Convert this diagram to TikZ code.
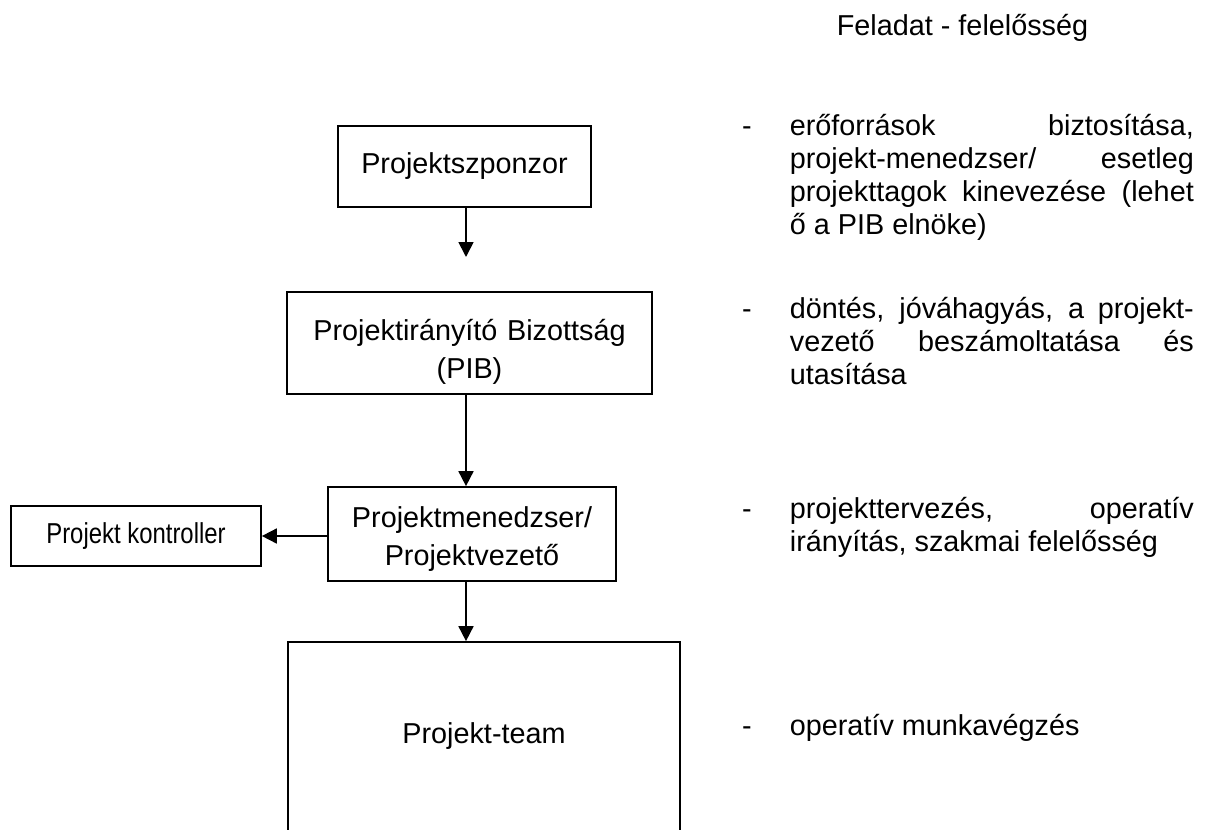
\documentclass[tikz,border=0pt]{standalone}
\usepackage{fontspec}
\setmainfont{Liberation Sans}
\newfontfamily\narrowfont[FakeStretch=0.83]{Liberation Sans}
\usetikzlibrary{arrows.meta}
\hyphenpenalty=10000
\exhyphenpenalty=10000
\tolerance=10000
\hbadness=10000
\begin{document}
\begin{tikzpicture}[x=1pt,y=-1pt,line width=1.7pt,
  font=\fontsize{28.8}{33.3}\selectfont,
  box/.style={draw, rectangle, inner sep=0pt, align=center,
    font=\fontsize{28.8}{37.8}\selectfont},
  arr/.style={-{Triangle[width=15pt,length=15pt]}},
  note/.style={anchor=base west, inner sep=0pt, text width=404pt, align=justify},
  bulletdash/.style={anchor=base, inner sep=0pt},
  heading/.style={anchor=base west, inner sep=0pt}]
\useasboundingbox (0,0) rectangle (1205,830);
\clip (0,0) rectangle (1205,830);

% boxes
\node[box, minimum width=253pt, minimum height=81pt] (sponsor) at (464.5,166.5) {Projektszponzor};
\node[box, minimum width=365pt, minimum height=102pt, text width=355pt,
  text height=20pt, text depth=25pt] (pib) at (469.5,343) {Projektirányító Bizottság\\(PIB)};
\node[box, minimum width=288pt, minimum height=94pt, text width=280pt,
  text height=20pt, text depth=33pt] (pm) at (472,534) {Projektmenedzser/\\Projektvezető};
\node[box, minimum width=250pt, minimum height=60pt, font=\narrowfont\fontsize{28.8}{33}\selectfont] (ctrl) at (136,536) {Projekt kontroller};
\node[box, minimum width=392pt, minimum height=204pt, text depth=22pt] (team) at (484,744) {Projekt-team};

% connectors
\coordinate (tip1) at (466,257);
\draw[arr] (sponsor.south -| tip1) -- (tip1);
\draw[arr] (pib.south -| tip1) -- (pm.north -| tip1);
\draw[arr] (pm.south -| tip1) -- (team.north -| tip1);
\draw[arr] (pm.west |- ctrl.east) -- (ctrl.east);

% right column
\node[heading] (title) at (836,35) {Feladat - felelősség};

\node[bulletdash] (d1) at (747,135) {-};
\node[note] (n1) at (789,135) {erőforrások biztosítása,\linebreak projekt-menedzser/ esetleg\linebreak projekttagok kinevezése (lehet\linebreak ő a PIB elnöke)};

\node[bulletdash] (d2) at (747,318) {-};
\node[note] (n2) at (789,318) {döntés, jóváhagyás, a projekt-\linebreak vezető beszámoltatása és\linebreak utasítása};

\node[bulletdash] (d3) at (747,518) {-};
\node[note] (n3) at (789,518) {projekttervezés, operatív\linebreak irányítás, szakmai felelősség};

\node[bulletdash] (d4) at (747,735) {-};
\node[note] (n4) at (789,735) {operatív munkavégzés};
\end{tikzpicture}
\end{document}
